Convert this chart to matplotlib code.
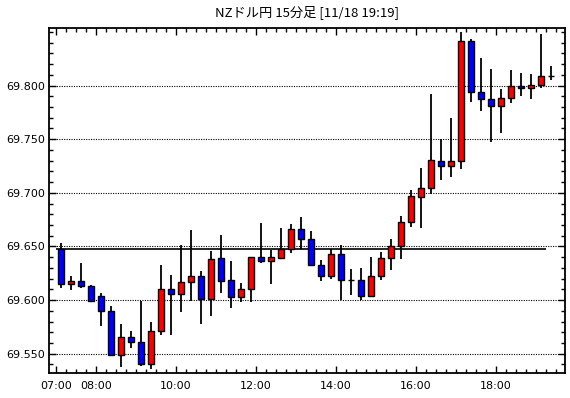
import matplotlib
matplotlib.use("Agg")
import matplotlib.pyplot as plt
import numpy as np

# 15 minute candles from 07:00 to 19:15 (open, high, low, close)
opens = [69.648, 69.615, 69.618, 69.6135, 69.604, 69.5895, 69.549, 69.566, 69.5605, 69.540,
         69.5715, 69.610, 69.606, 69.617, 69.622, 69.601, 69.639, 69.6185, 69.603, 69.610,
         69.6405, 69.6365, 69.6395, 69.648, 69.6658, 69.6565, 69.633, 69.622, 69.6425, 69.619,
         69.619, 69.604, 69.622, 69.639, 69.650, 69.6724, 69.696, 69.7044, 69.7296, 69.725,
         69.7296, 69.8415, 69.794, 69.787, 69.7806, 69.788, 69.7995, 69.7977, 69.8005, 69.809]
highs = [69.653, 69.622, 69.635, 69.6145, 69.6065, 69.594, 69.5775, 69.571, 69.599, 69.580,
         69.633, 69.623, 69.651, 69.665, 69.6275, 69.646, 69.661, 69.636, 69.616, 69.6405,
         69.672, 69.6465, 69.667, 69.671, 69.6773, 69.6643, 69.637, 69.6475, 69.651, 69.629,
         69.630, 69.640, 69.645, 69.657, 69.678, 69.703, 69.723, 69.792, 69.750, 69.770,
         69.850, 69.843, 69.826, 69.815, 69.797, 69.814, 69.812, 69.811, 69.848, 69.8185]
lows = [69.611, 69.6095, 69.611, 69.598, 69.576, 69.548, 69.538, 69.555, 69.5385, 69.536,
        69.5675, 69.5675, 69.589, 69.5995, 69.578, 69.5855, 69.607, 69.593, 69.598, 69.598,
        69.635, 69.615, 69.6385, 69.644, 69.6478, 69.632, 69.618, 69.620, 69.6005, 69.605,
        69.6005, 69.603, 69.619, 69.628, 69.6385, 69.668, 69.667, 69.699, 69.7115, 69.7145,
        69.722, 69.785, 69.776, 69.747, 69.756, 69.784, 69.790, 69.787, 69.7975, 69.805]
closes = [69.615, 69.618, 69.6135, 69.5995, 69.5895, 69.549, 69.566, 69.561, 69.540, 69.5715,
          69.610, 69.606, 69.617, 69.622, 69.601, 69.638, 69.618, 69.603, 69.610, 69.6405,
          69.6365, 69.6405, 69.648, 69.6658, 69.6565, 69.633, 69.622, 69.6425, 69.619, 69.619,
          69.604, 69.622, 69.639, 69.650, 69.6724, 69.6966, 69.7044, 69.7305, 69.725, 69.7296,
          69.8415, 69.794, 69.787, 69.7806, 69.788, 69.7995, 69.7977, 69.8005, 69.809, 69.809]

ref_level = 69.6474
hour_ticks = [7, 8, 10, 12, 14, 16, 18]
hour_labels = ["07:00", "08:00", "10:00", "12:00", "14:00", "16:00", "18:00"]
price_ticks = [69.55, 69.60, 69.65, 69.70, 69.75, 69.80]

plt.rcParams['font.family'] = ['DejaVu Sans']

fig = plt.figure(figsize=(5.7, 3.98), dpi=100)
ax = fig.add_axes([0.0868, 0.0628, 0.9044, 0.8668])

n = len(opens)
x = 7 + (np.arange(n) + 0.5) * 0.25
o = np.array(opens)
c = np.array(closes)
colors = ["#ff0000" if cc > oo else ("#0000ff" if cc < oo else "black") for oo, cc in zip(o, c)]

# grid and reference line
for p in price_ticks:
    ax.axhline(p, color="black", lw=0.8, ls=(0, (1, 1.2)), zorder=1)
ax.hlines(ref_level, 7.0, 19.25, color="black", lw=1.2, zorder=1)

# candles
ax.vlines(x, lows, highs, color="black", lw=1.3, zorder=2)
ax.bar(x, np.abs(c - o), bottom=np.minimum(o, c), width=0.15, color=colors,
       edgecolor="black", linewidth=1.0, zorder=3)

ax.set_xlim(6.845, 19.73)
ax.set_ylim(69.532, 69.8536)

ax.set_xticks(hour_ticks)
ax.set_xticklabels(hour_labels)
ax.set_xticks(np.arange(7, 19.75, 0.25), minor=True)
ax.set_yticks(price_ticks)
ax.set_yticklabels([f"{p:.3f}" for p in price_ticks])
ax.set_yticks(np.arange(69.54, 69.851, 0.01), minor=True)

ax.tick_params(which="both", direction="in", top=True, right=True, labelsize=8, width=1.0, pad=3)
ax.tick_params(which="major", length=5)
ax.tick_params(which="minor", length=3)
ax.tick_params(axis="x", which="major", pad=6)

for s in ax.spines.values():
    s.set_linewidth(1.3)

fig.text(0.538, 0.97, "NZドル円 15分足 [11/18 19:19]", ha="center", va="center", fontsize=9.5,
         family=["Noto Sans CJK JP", "DejaVu Sans"])

fig.savefig("out.png", dpi=100)
